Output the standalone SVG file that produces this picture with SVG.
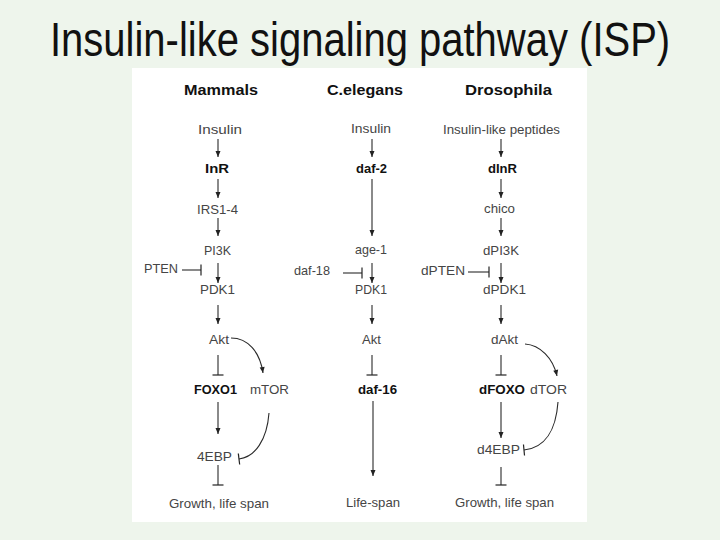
<svg xmlns="http://www.w3.org/2000/svg" width="720" height="540" viewBox="0 0 720 540">
<style>
.t{font-family:"Liberation Sans",Arial,sans-serif;font-size:13px;fill:#454545}
.b{font-family:"Liberation Sans",Arial,sans-serif;font-size:13px;font-weight:bold;fill:#111}
.h{font-family:"Liberation Sans",Arial,sans-serif;font-size:15px;font-weight:bold;fill:#111}
.title{font-family:"Liberation Sans",Arial,sans-serif;font-size:40px;fill:#111}
.c{fill:none;stroke:#2a2a2a;stroke-width:1.1}
.ar{marker-end:url(#arrow)}
.in{marker-end:url(#tee)}
</style>
<defs>
<marker id="arrow" markerUnits="userSpaceOnUse" markerWidth="10" markerHeight="10" refX="6" refY="0" orient="auto" overflow="visible"><path d="M0,-2.5 L6,0 L0,2.5 z" fill="#222"/></marker>
<marker id="tee" markerUnits="userSpaceOnUse" markerWidth="12" markerHeight="12" refX="0" refY="0" orient="auto" overflow="visible"><path d="M0,-5.5 L0,5.5" stroke="#222" stroke-width="1.2" fill="none"/></marker>
</defs>
<rect width="720" height="540" fill="#eef5ec"/>
<rect x="132" y="68" width="455" height="454" fill="#ffffff"/>
<text class="title" transform="translate(50,56) scale(1,1.2)" x="0" y="0">Insulin-like signaling pathway (ISP)</text>

<g id="connectors">
<!-- Mammals -->
<path class="c ar" d="M218,139 V157"/>
<path class="c ar" d="M218,179 V198"/>
<path class="c ar" d="M218,218 V236"/>
<path class="c ar" d="M218,263 V283"/>
<path class="c ar" d="M218,305 V324"/>
<path class="c in" d="M218,355 V375"/>
<path class="c ar" d="M218,402 V434"/>
<path class="c in" d="M218,465 V485"/>
<path class="c in" d="M182,270 H201"/>
<path class="c ar" d="M231,338 C248,338 260,352 263,373"/>
<path class="c in" d="M269,413 C267,440 255,457 239,459"/>
<!-- C. elegans -->
<path class="c ar" d="M372,139 V157"/>
<path class="c ar" d="M372,179 V236"/>
<path class="c ar" d="M372,263 V283"/>
<path class="c ar" d="M372,305 V324"/>
<path class="c in" d="M372,355 V375"/>
<path class="c ar" d="M373,401 V476"/>
<path class="c in" d="M343,273 H362"/>
<!-- Drosophila -->
<path class="c ar" d="M501,139 V157"/>
<path class="c ar" d="M501,179 V198"/>
<path class="c ar" d="M501,218 V236"/>
<path class="c ar" d="M501,263 V283"/>
<path class="c ar" d="M501,305 V324"/>
<path class="c in" d="M501,355 V375"/>
<path class="c ar" d="M501,402 V438"/>
<path class="c in" d="M501,467 V485"/>
<path class="c in" d="M468,272 H489"/>
<path class="c ar" d="M525,344 C540,345 553,358 557,376"/>
<path class="c in" d="M558,402 C556,430 545,448 524,450"/>
</g>

<g id="mammals">
<g id="h-mammals"><text class="h" x="184" y="95" textLength="74" lengthAdjust="spacingAndGlyphs">Mammals</text></g>
<g id="m-insulin"><text class="t" x="198" y="134" textLength="44" lengthAdjust="spacingAndGlyphs">Insulin</text></g>
<g id="m-inr"><text class="b" x="205" y="173" textLength="24" lengthAdjust="spacingAndGlyphs">InR</text></g>
<g id="m-irs"><text class="t" x="197" y="214" textLength="41" lengthAdjust="spacingAndGlyphs">IRS1-4</text></g>
<g id="m-pi3k"><text class="t" x="204" y="255" textLength="27" lengthAdjust="spacingAndGlyphs">PI3K</text></g>
<g id="m-pten"><text class="t" x="144" y="273" textLength="34" lengthAdjust="spacingAndGlyphs">PTEN</text></g>
<g id="m-pdk1"><text class="t" x="200" y="294" textLength="35" lengthAdjust="spacingAndGlyphs">PDK1</text></g>
<g id="m-akt"><text class="t" x="209" y="344" textLength="20" lengthAdjust="spacingAndGlyphs">Akt</text></g>
<g id="m-foxo1"><text class="b" x="194" y="394" textLength="43" lengthAdjust="spacingAndGlyphs">FOXO1</text></g>
<g id="m-mtor"><text class="t" x="250" y="394" textLength="39" lengthAdjust="spacingAndGlyphs">mTOR</text></g>
<g id="m-4ebp"><text class="t" x="197" y="461" textLength="35" lengthAdjust="spacingAndGlyphs">4EBP</text></g>
<g id="m-growth"><text class="t" x="169" y="508" textLength="100" lengthAdjust="spacingAndGlyphs">Growth, life span</text></g>
</g>

<g id="celegans">
<g id="h-celegans"><text class="h" x="327" y="95" textLength="76" lengthAdjust="spacingAndGlyphs">C.elegans</text></g>
<g id="c-insulin"><text class="t" x="351" y="133" textLength="40" lengthAdjust="spacingAndGlyphs">Insulin</text></g>
<g id="c-daf2"><text class="b" x="356" y="173" textLength="31" lengthAdjust="spacingAndGlyphs">daf-2</text></g>
<g id="c-age1"><text class="t" x="355" y="254" textLength="32" lengthAdjust="spacingAndGlyphs">age-1</text></g>
<g id="c-daf18"><text class="t" x="294" y="275" textLength="36" lengthAdjust="spacingAndGlyphs">daf-18</text></g>
<g id="c-pdk1"><text class="t" x="355" y="294" textLength="32" lengthAdjust="spacingAndGlyphs">PDK1</text></g>
<g id="c-akt"><text class="t" x="362" y="344" textLength="19" lengthAdjust="spacingAndGlyphs">Akt</text></g>
<g id="c-daf16"><text class="b" x="358" y="394" textLength="39" lengthAdjust="spacingAndGlyphs">daf-16</text></g>
<g id="c-lifespan"><text class="t" x="346" y="507" textLength="54" lengthAdjust="spacingAndGlyphs">Life-span</text></g>
</g>

<g id="drosophila">
<g id="h-drosophila"><text class="h" x="465" y="95" textLength="87" lengthAdjust="spacingAndGlyphs">Drosophila</text></g>
<g id="d-ilp"><text class="t" x="443" y="134" textLength="117" lengthAdjust="spacingAndGlyphs">Insulin-like peptides</text></g>
<g id="d-dinr"><text class="b" x="488" y="173" textLength="29" lengthAdjust="spacingAndGlyphs">dInR</text></g>
<g id="d-chico"><text class="t" x="484" y="213" textLength="31" lengthAdjust="spacingAndGlyphs">chico</text></g>
<g id="d-dpi3k"><text class="t" x="483" y="255" textLength="36" lengthAdjust="spacingAndGlyphs">dPI3K</text></g>
<g id="d-dpten"><text class="t" x="421" y="275" textLength="44" lengthAdjust="spacingAndGlyphs">dPTEN</text></g>
<g id="d-dpdk1"><text class="t" x="483" y="294" textLength="43" lengthAdjust="spacingAndGlyphs">dPDK1</text></g>
<g id="d-dakt"><text class="t" x="491" y="344" textLength="27" lengthAdjust="spacingAndGlyphs">dAkt</text></g>
<g id="d-dfoxo"><text class="b" x="479" y="394" textLength="46" lengthAdjust="spacingAndGlyphs">dFOXO</text></g>
<g id="d-dtor"><text class="t" x="530" y="394" textLength="37" lengthAdjust="spacingAndGlyphs">dTOR</text></g>
<g id="d-d4ebp"><text class="t" x="477" y="454" textLength="43" lengthAdjust="spacingAndGlyphs">d4EBP</text></g>
<g id="d-growth"><text class="t" x="455" y="507" textLength="99" lengthAdjust="spacingAndGlyphs">Growth, life span</text></g>
</g>
</svg>
